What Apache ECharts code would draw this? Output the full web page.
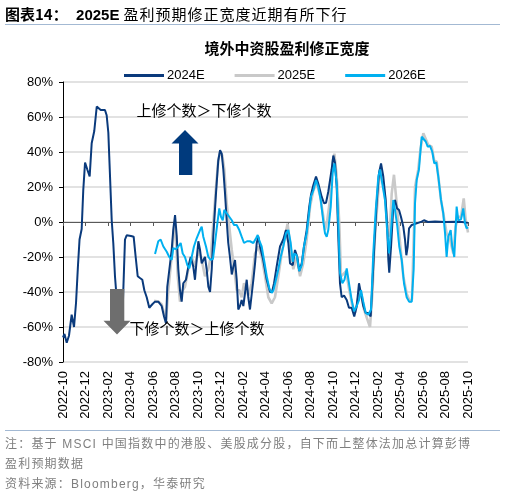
<!DOCTYPE html>
<html>
<head>
<meta charset="utf-8">
<script src="https://cdn.jsdelivr.net/npm/echarts@6/dist/echarts.min.js"></script>
<style>
  html, body { margin: 0; padding: 0; background: #fff; }
  #wrap { position: relative; width: 505px; height: 496px; overflow: hidden; }
  #chart { position: absolute; left: 0; top: 0; width: 505px; height: 496px; }
  .hdr { position: absolute; left: 5px; top: 4px; font-size: 15px; line-height: 20px; color: #000; white-space: nowrap;
         font-family: "Liberation Sans", "Noto Sans CJK SC", sans-serif; }
  .hdr b { font-weight: bold; }
  .hdr .cn { letter-spacing: 1px; font-family: "Noto Sans CJK SC", sans-serif; font-weight: normal; }
  .rule { position: absolute; left: 5px; width: 495px; height: 0; border-top: 1.5px solid #A3B9D3; }
  .note { position: absolute; left: 5px; font-size: 12px; line-height: 20px; color: #7F7F7F; white-space: nowrap;
          letter-spacing: 1.2px; font-family: "Liberation Sans", "Noto Sans CJK SC", sans-serif; }
</style>
</head>
<body>
<div id="wrap">
  <div id="chart"></div>
  <div class="hdr"><b style="font-family:'Noto Sans CJK SC'">图表14：</b>&nbsp;&nbsp;<b>2025E</b> <span class="cn">盈利预期修正宽度近期有所下行</span></div>
  <div class="rule" style="top:24px"></div>
  <div class="rule" style="top:430px"></div>
  <div class="note" style="top:434px">注：基于 MSCI 中国指数中的港股、美股成分股，自下而上整体法加总计算彭博</div>
  <div class="note" style="top:454px">盈利预期数据</div>
  <div class="note" style="top:474px">资料来源：Bloomberg，华泰研究</div>
</div>
<script>
// x values: months since 2022-10 (0 = 2022-10, 36 = 2025-10); y values: revision breadth in %
const seriesNames = ['2024E', '2025E', '2026E'];
const yTicks = { min: -80, max: 80, step: 20 };
const xTicks = { min: 0, max: 36, step: 2 };

const t2024 = [0,0.13,0.33,0.53,0.77,0.98,1.16,1.33,1.47,1.66,1.80,1.96,2.16,2.37,2.55,2.78,3.00,3.14,3.35,3.73,3.88,4.03,4.18,4.33,4.47,4.62,4.80,4.98,5.16,5.33,5.51,5.66,5.80,6.04,6.28,6.46,6.64,6.84,7.05,7.23,7.44,7.67,7.94,8.18,8.47,8.77,8.98,9.16,9.27,9.42,9.66,9.80,9.96,10.11,10.25,10.40,10.55,10.69,10.93,11.14,11.35,11.58,11.73,11.88,12.03,12.18,12.33,12.47,12.62,12.77,12.92,13.07,13.22,13.36,13.60,13.80,13.96,14.11,14.25,14.40,14.55,14.69,14.84,15.00,15.14,15.29,15.44,15.58,15.73,15.88,16.03,16.13,16.33,16.47,16.62,16.77,16.92,17.07,17.22,17.36,17.51,17.80,18.11,18.40,18.58,18.76,18.99,19.29,19.58,19.82,20.03,20.18,20.42,20.62,20.83,21.00,21.22,21.42,21.66,21.89,22.04,22.25,22.49,22.69,22.99,23.20,23.38,23.58,23.73,23.88,24.03,24.18,24.33,24.47,24.62,24.77,24.98,25.22,25.42,25.66,25.89,26.11,26.31,26.55,26.69,26.91,27.14,27.35,27.49,27.67,27.88,28.09,28.27,28.47,28.68,28.83,28.92,29.00,29.16,29.36,29.51,29.69,29.87,30.04,30.25,30.40,30.52,30.64,30.76,31.00,31.44,31.88,32.09,32.44,33.07,33.96,34.84,35.47,36.00];
const v2024 = [-66,-64,-69,-65,-53,-60,-46,-25,-10,-4,18,34,30,26,45,52,66,67,64,64,61,51,26,1,-12,-31,-46,-55,-58,-45,-10,-7.6,-6.5,-8,-8.4,-20,-31,-32,-33,-39,-43,-49,-47,-45.5,-45.5,-48,-54,-58,-37,-36,-16,-4.6,4,-8,-27,-39,-45.5,-35,-33,-25.5,-20,-25.5,-33,-21.7,-11,-16,-23.6,-24,-20,-27,-37,-40,-27,-8,16.5,35,41,39,30,16.5,1,-12,-20,-30,-25.5,-21.7,-33,-50,-48,-44.6,-48,-49,-33,-43,-50,-49,-33,-23.6,-12,-8.4,-14,-21.7,-33,-40,-40,-35,-25.5,-14,-10,-4.6,-12,-23.6,-24.6,-16,-20,-28,-23.6,-14,-4.6,8.8,15.4,21,26,22,14.5,10.7,11,17.3,18,30,38,33.7,20,-8.4,-35,-43,-42,-44.6,-49,-49,-54,-48,-35,-43,-48,-52,-52,-54,-37,-14,10.7,28,33.5,26,12.6,-4.6,-21.7,-29,-14,8.8,12.6,7.8,6.9,3,-2.7,-10,-19,-14,-3.6,-1.7,-0.8,0.2,1,0,0.3,0,0.2,0,-0.5];

const t2025 = [8.09,8.47,8.77,8.98,9.16,9.36,9.57,9.75,9.89,10.04,10.20,10.40,10.64,10.84,11.14,11.44,11.73,12.03,12.33,12.62,12.92,13.13,13.36,13.60,13.80,13.96,14.16,14.34,14.55,14.78,15.00,15.20,15.44,15.67,15.88,16.09,16.27,16.47,16.77,17.07,17.36,17.66,17.96,18.25,18.55,18.84,19.14,19.44,19.73,19.96,20.18,20.47,20.77,21.07,21.36,21.66,21.96,22.25,22.55,22.84,23.14,23.29,23.49,23.73,23.97,24.12,24.33,24.56,24.71,24.89,25.16,25.42,25.69,25.96,26.22,26.49,26.76,27.02,27.29,27.51,27.69,27.88,28.18,28.40,28.62,28.92,29.07,29.22,29.42,29.66,29.96,30.25,30.55,30.84,31.02,31.22,31.29,31.58,31.78,32.03,32.18,32.47,32.77,33.00,33.22,33.36,33.60,33.80,34.10,34.40,34.69,34.90,35.14,35.38,35.62,35.80,36.00];
const v2025 = [-45,-45.5,-47,-52,-56,-39,-25.5,-14,-0.8,-8.4,-31,-45.5,-39,-37,-27,-20,-25.5,-16,-21.7,-31,-27,-20,-0.8,20,35,40,38,30,10.7,-2.7,-16,-25.5,-39,-39,-43,-35,-38,-42,-35,-18,-14,-20,-31,-43,-46.5,-43,-31,-18,-8.4,-1,-12,-27,-20,-31,-23.6,-10,8.8,18,22,15.4,3,-4.6,1,12.6,35,39,26,-0.8,-31,-30,-28,-38,-47,-52,-44,-40,-50,-55,-60,-40,-12,5,30,24,14.5,-8.4,-2,16.4,27,10.7,-12,-31,-41,-45.5,-44,1,20,30,42,50.7,51,44,43,35,34.5,26,12.6,5,-6.5,-10,-18,-2.7,3,3,13.5,1,-6];

const t2026 = [8.18,8.47,8.68,8.92,9.22,9.45,9.66,9.80,10.04,10.25,10.46,10.64,10.84,11.05,11.23,11.44,11.64,11.88,12.18,12.33,12.47,12.71,12.92,13.13,13.33,13.51,13.72,13.89,14.04,14.20,14.34,14.55,14.78,15.00,15.20,15.44,15.67,15.88,16.09,16.36,16.62,16.92,17.16,17.31,17.47,17.66,17.87,18.11,18.34,18.55,18.71,18.93,19.14,19.35,19.58,19.82,20.03,20.24,20.42,20.56,20.77,21.00,21.22,21.42,21.66,21.87,22.04,22.25,22.49,22.69,22.91,23.14,23.29,23.44,23.58,23.80,23.97,24.12,24.33,24.47,24.62,24.83,25.02,25.22,25.42,25.66,25.87,26.11,26.31,26.49,26.69,26.91,27.14,27.38,27.58,27.80,28.03,28.18,28.38,28.62,28.83,28.98,29.16,29.36,29.51,29.72,29.89,30.11,30.31,30.55,30.76,31.00,31.17,31.29,31.44,31.64,31.88,32.03,32.24,32.42,32.62,32.83,33.00,33.18,33.36,33.60,33.80,33.96,34.10,34.25,34.46,34.60,34.78,34.99,35.14,35.38,35.58,35.73,35.88,36.00];
const v2026 = [-18.3,-11,-10,-14,-17,-20,-21.7,-15,-15.5,-14,-12,-18,-20,-24.6,-26.5,-20,-14,-9.3,-4.6,-2.7,-8.4,-14,-20,-21.7,-21,-12,-0.8,7.8,3,1,6.9,5,3,1,-1.7,-1.7,-4.6,-8.4,-12,-11,-11,-12,-9.3,-7.4,-11,-14,-21.7,-31,-38,-40.5,-39,-33,-27,-20,-14,-6.5,-4.6,-12,-22.7,-18,-19,-28,-24.6,-14,-6.5,5,14.5,18,24,20,12.6,0.2,-6.5,-8.4,-4.6,8.8,28,33.5,22,0,-29,-35,-33,-26.5,-35,-44.6,-51,-48,-44.6,-39,-45.5,-52,-53,-50,-18,6.9,26,30,22,12.6,-6.5,-18,-4.6,12.6,6.9,-2.7,-14,-21.7,-35,-43,-45.5,-45.5,-27,10.7,24,30,48.7,49.7,46,43,43.5,40,33.5,34,26,12.6,5,-6.5,-20,-8.4,-4.6,-14,-20,8.8,1,1.5,7.8,-0.8,-3.6,-3,-5];

const colors = { '2024E': '#0A3A7C', '2025E': '#C9C9C9', '2026E': '#00B0F0' };
const zip = (a, b) => a.map((x, i) => [x, b[i]]);
const monthLabel = (t) => {
  const m = 9 + Math.round(t);
  const y = 2022 + Math.floor(m / 12);
  const mm = (m % 12) + 1;
  return y + '-' + (mm < 10 ? '0' + mm : mm);
};

const chart = echarts.init(document.getElementById('chart'), null, { renderer: 'canvas' });
const lineSeries = (name, data, width, z) => ({
  name, type: 'line', data, xAxisIndex: 0, yAxisIndex: 0,
  showSymbol: false, symbol: 'none', z,
  lineStyle: { color: colors[name], width },
  itemStyle: { color: colors[name] },
  emphasis: { disabled: true }
});

chart.setOption({
  animation: false,
  title: {
    text: '境外中资股盈利修正宽度', left: 282, top: 36, textAlign: 'center',
    textStyle: { fontSize: 15, fontWeight: 'bold', color: '#000', fontFamily: 'Noto Sans CJK SC' }
  },
  legend: {
    data: seriesNames, left: 119, top: 64, itemWidth: 40, itemHeight: 3, itemGap: 30,
    icon: 'rect',
    textStyle: { fontSize: 13, color: '#000', fontFamily: 'Liberation Sans', padding: [0, 0, 0, -2] }
  },
  grid: { left: 63, right: 37, top: 82, bottom: 134 },
  xAxis: [
    {
      type: 'value', position: 'bottom', min: xTicks.min, max: xTicks.max, interval: xTicks.step,
      axisLine: { show: false }, axisTick: { show: false }, splitLine: { show: false },
      axisLabel: { rotate: 90, margin: 9, fontSize: 13, color: '#000', fontFamily: 'Liberation Sans', formatter: monthLabel }
    },
    {
      type: 'value', position: 'top', min: xTicks.min, max: xTicks.max, interval: xTicks.step,
      axisLine: { show: true, onZero: true, onZeroAxisIndex: 0, lineStyle: { color: '#595959', width: 1 } },
      axisTick: { show: true, inside: true, length: 4, lineStyle: { color: '#595959' } },
      axisLabel: { show: false }, splitLine: { show: false }
    }
  ],
  yAxis: {
    type: 'value', min: yTicks.min, max: yTicks.max, interval: yTicks.step,
    axisLine: { show: true, lineStyle: { color: '#000', width: 1 } },
    axisTick: { show: true, length: 4, lineStyle: { color: '#000' } },
    axisLabel: { fontSize: 13, color: '#000', margin: 10, fontFamily: 'Liberation Sans', formatter: '{value}%' },
    splitLine: { show: true, lineStyle: { color: '#D9D9D9', width: 1.5 } }
  },
  series: [
    lineSeries('2025E', zip(t2025, v2025), 2.6, 2),
    lineSeries('2024E', zip(t2024, v2024), 2, 3),
    lineSeries('2026E', zip(t2026, v2026), 2, 4)
  ],
  graphic: [
    { type: 'polygon', z: 100, shape: { points: [[185,130],[198.5,143.5],[192.3,143.5],[192.3,175],[179,175],[179,143.5],[171.5,143.5]] }, style: { fill: '#003A7D' } },
    { type: 'polygon', z: 100, shape: { points: [[110,289],[124.3,289],[124.3,320.7],[130.5,320.7],[117,334.5],[103.5,320.7],[110,320.7]] }, style: { fill: '#6E6E6E' } },
    { type: 'text', z: 101, x: 204, y: 110, style: { text: '上修个数＞下修个数', fontSize: 15, fill: '#000', fontFamily: 'Noto Sans CJK SC', align: 'center', verticalAlign: 'middle' } },
    { type: 'text', z: 101, x: 197, y: 328, style: { text: '下修个数＞上修个数', fontSize: 15, fill: '#000', fontFamily: 'Noto Sans CJK SC', align: 'center', verticalAlign: 'middle' } }
  ]
});
</script>
</body>
</html>
